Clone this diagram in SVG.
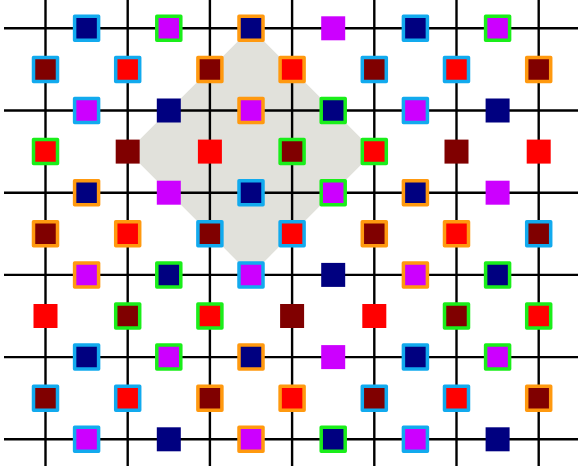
<svg xmlns="http://www.w3.org/2000/svg" width="578" height="472" viewBox="0 0 578 472">
<style>
.bg{fill:#ffffff}
.zone{fill:#e1e1db}
.ln{stroke:#000000;stroke-width:2.4}
rect.sq{stroke-width:3.5;stroke-linejoin:round}
.n{fill:#000080}.m{fill:#cc00ff}.r{fill:#ff0000}.d{fill:#800000}
.b{stroke:#12aaee}.g{stroke:#1aee1a}.o{stroke:#ff990f}
</style>
<rect class="bg" x="0" y="0" width="578" height="472"/>
<g id="zone"><polygon class="zone" points="239,40.3 263,40.3 362.3,139.6 362.3,163.6 263,262.9 239,262.9 139.7,163.6 139.7,139.6"/></g>
<g id="connectors">
<line class="ln" x1="4" y1="28.3" x2="580" y2="28.3"/>
<line class="ln" x1="4" y1="110.5" x2="580" y2="110.5"/>
<line class="ln" x1="4" y1="192.7" x2="580" y2="192.7"/>
<line class="ln" x1="4" y1="274.9" x2="580" y2="274.9"/>
<line class="ln" x1="4" y1="357.1" x2="580" y2="357.1"/>
<line class="ln" x1="4" y1="439.3" x2="580" y2="439.3"/>
<line class="ln" x1="45.5" y1="0" x2="45.5" y2="466"/>
<line class="ln" x1="127.7" y1="0" x2="127.7" y2="466"/>
<line class="ln" x1="209.9" y1="0" x2="209.9" y2="466"/>
<line class="ln" x1="292.1" y1="0" x2="292.1" y2="466"/>
<line class="ln" x1="374.3" y1="0" x2="374.3" y2="466"/>
<line class="ln" x1="456.5" y1="0" x2="456.5" y2="466"/>
<line class="ln" x1="538.7" y1="0" x2="538.7" y2="466"/>
</g>
<g id="r0c1"><rect class="sq n b" x="74.6" y="16.3" width="24" height="24"/></g>
<g id="r0c3"><rect class="sq m g" x="156.8" y="16.3" width="24" height="24"/></g>
<g id="r0c5"><rect class="sq n o" x="239" y="16.3" width="24" height="24"/></g>
<g id="r0c7"><rect class="sq m" x="321.2" y="16.3" width="24" height="24"/></g>
<g id="r0c9"><rect class="sq n b" x="403.4" y="16.3" width="24" height="24"/></g>
<g id="r0c11"><rect class="sq m g" x="485.6" y="16.3" width="24" height="24"/></g>
<g id="r1c0"><rect class="sq d b" x="33.5" y="57.4" width="24" height="24"/></g>
<g id="r1c2"><rect class="sq r b" x="115.7" y="57.4" width="24" height="24"/></g>
<g id="r1c4"><rect class="sq d o" x="197.9" y="57.4" width="24" height="24"/></g>
<g id="r1c6"><rect class="sq r o" x="280.1" y="57.4" width="24" height="24"/></g>
<g id="r1c8"><rect class="sq d b" x="362.3" y="57.4" width="24" height="24"/></g>
<g id="r1c10"><rect class="sq r b" x="444.5" y="57.4" width="24" height="24"/></g>
<g id="r1c12"><rect class="sq d o" x="526.7" y="57.4" width="24" height="24"/></g>
<g id="r2c1"><rect class="sq m b" x="74.6" y="98.5" width="24" height="24"/></g>
<g id="r2c3"><rect class="sq n" x="156.8" y="98.5" width="24" height="24"/></g>
<g id="r2c5"><rect class="sq m o" x="239" y="98.5" width="24" height="24"/></g>
<g id="r2c7"><rect class="sq n g" x="321.2" y="98.5" width="24" height="24"/></g>
<g id="r2c9"><rect class="sq m b" x="403.4" y="98.5" width="24" height="24"/></g>
<g id="r2c11"><rect class="sq n" x="485.6" y="98.5" width="24" height="24"/></g>
<g id="r3c0"><rect class="sq r g" x="33.5" y="139.6" width="24" height="24"/></g>
<g id="r3c2"><rect class="sq d" x="115.7" y="139.6" width="24" height="24"/></g>
<g id="r3c4"><rect class="sq r" x="197.9" y="139.6" width="24" height="24"/></g>
<g id="r3c6"><rect class="sq d g" x="280.1" y="139.6" width="24" height="24"/></g>
<g id="r3c8"><rect class="sq r g" x="362.3" y="139.6" width="24" height="24"/></g>
<g id="r3c10"><rect class="sq d" x="444.5" y="139.6" width="24" height="24"/></g>
<g id="r3c12"><rect class="sq r" x="526.7" y="139.6" width="24" height="24"/></g>
<g id="r4c1"><rect class="sq n o" x="74.6" y="180.7" width="24" height="24"/></g>
<g id="r4c3"><rect class="sq m" x="156.8" y="180.7" width="24" height="24"/></g>
<g id="r4c5"><rect class="sq n b" x="239" y="180.7" width="24" height="24"/></g>
<g id="r4c7"><rect class="sq m g" x="321.2" y="180.7" width="24" height="24"/></g>
<g id="r4c9"><rect class="sq n o" x="403.4" y="180.7" width="24" height="24"/></g>
<g id="r4c11"><rect class="sq m" x="485.6" y="180.7" width="24" height="24"/></g>
<g id="r5c0"><rect class="sq d o" x="33.5" y="221.8" width="24" height="24"/></g>
<g id="r5c2"><rect class="sq r o" x="115.7" y="221.8" width="24" height="24"/></g>
<g id="r5c4"><rect class="sq d b" x="197.9" y="221.8" width="24" height="24"/></g>
<g id="r5c6"><rect class="sq r b" x="280.1" y="221.8" width="24" height="24"/></g>
<g id="r5c8"><rect class="sq d o" x="362.3" y="221.8" width="24" height="24"/></g>
<g id="r5c10"><rect class="sq r o" x="444.5" y="221.8" width="24" height="24"/></g>
<g id="r5c12"><rect class="sq d b" x="526.7" y="221.8" width="24" height="24"/></g>
<g id="r6c1"><rect class="sq m o" x="74.6" y="262.9" width="24" height="24"/></g>
<g id="r6c3"><rect class="sq n g" x="156.8" y="262.9" width="24" height="24"/></g>
<g id="r6c5"><rect class="sq m b" x="239" y="262.9" width="24" height="24"/></g>
<g id="r6c7"><rect class="sq n" x="321.2" y="262.9" width="24" height="24"/></g>
<g id="r6c9"><rect class="sq m o" x="403.4" y="262.9" width="24" height="24"/></g>
<g id="r6c11"><rect class="sq n g" x="485.6" y="262.9" width="24" height="24"/></g>
<g id="r7c0"><rect class="sq r" x="33.5" y="304" width="24" height="24"/></g>
<g id="r7c2"><rect class="sq d g" x="115.7" y="304" width="24" height="24"/></g>
<g id="r7c4"><rect class="sq r g" x="197.9" y="304" width="24" height="24"/></g>
<g id="r7c6"><rect class="sq d" x="280.1" y="304" width="24" height="24"/></g>
<g id="r7c8"><rect class="sq r" x="362.3" y="304" width="24" height="24"/></g>
<g id="r7c10"><rect class="sq d g" x="444.5" y="304" width="24" height="24"/></g>
<g id="r7c12"><rect class="sq r g" x="526.7" y="304" width="24" height="24"/></g>
<g id="r8c1"><rect class="sq n b" x="74.6" y="345.1" width="24" height="24"/></g>
<g id="r8c3"><rect class="sq m g" x="156.8" y="345.1" width="24" height="24"/></g>
<g id="r8c5"><rect class="sq n o" x="239" y="345.1" width="24" height="24"/></g>
<g id="r8c7"><rect class="sq m" x="321.2" y="345.1" width="24" height="24"/></g>
<g id="r8c9"><rect class="sq n b" x="403.4" y="345.1" width="24" height="24"/></g>
<g id="r8c11"><rect class="sq m g" x="485.6" y="345.1" width="24" height="24"/></g>
<g id="r9c0"><rect class="sq d b" x="33.5" y="386.2" width="24" height="24"/></g>
<g id="r9c2"><rect class="sq r b" x="115.7" y="386.2" width="24" height="24"/></g>
<g id="r9c4"><rect class="sq d o" x="197.9" y="386.2" width="24" height="24"/></g>
<g id="r9c6"><rect class="sq r o" x="280.1" y="386.2" width="24" height="24"/></g>
<g id="r9c8"><rect class="sq d b" x="362.3" y="386.2" width="24" height="24"/></g>
<g id="r9c10"><rect class="sq r b" x="444.5" y="386.2" width="24" height="24"/></g>
<g id="r9c12"><rect class="sq d o" x="526.7" y="386.2" width="24" height="24"/></g>
<g id="r10c1"><rect class="sq m b" x="74.6" y="427.3" width="24" height="24"/></g>
<g id="r10c3"><rect class="sq n" x="156.8" y="427.3" width="24" height="24"/></g>
<g id="r10c5"><rect class="sq m o" x="239" y="427.3" width="24" height="24"/></g>
<g id="r10c7"><rect class="sq n g" x="321.2" y="427.3" width="24" height="24"/></g>
<g id="r10c9"><rect class="sq m b" x="403.4" y="427.3" width="24" height="24"/></g>
<g id="r10c11"><rect class="sq n" x="485.6" y="427.3" width="24" height="24"/></g>
</svg>
